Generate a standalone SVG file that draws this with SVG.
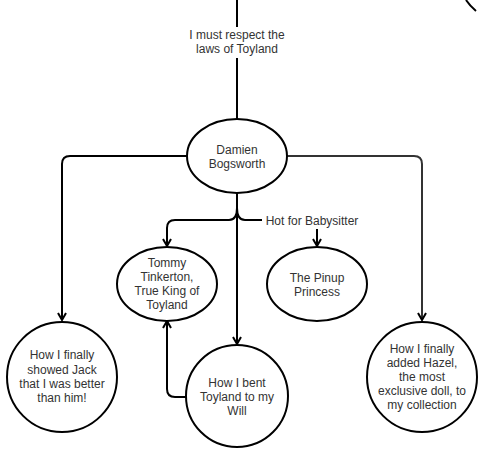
<svg xmlns="http://www.w3.org/2000/svg" width="482" height="453" viewBox="0 0 482 453">
<style>
.n{fill:#fff;stroke:#000;stroke-width:2}
.c{fill:none;stroke:#000;stroke-width:2}
.t{font-family:"Liberation Sans",Arial,sans-serif;font-size:12px;fill:#333;text-anchor:middle}
</style>
<defs>
<marker id="a" markerWidth="10" markerHeight="10" refX="8" refY="5" orient="auto" markerUnits="userSpaceOnUse">
<path d="M1,1 L8,5 L1,9" fill="none" stroke="#000" stroke-width="2"/>
</marker>
</defs>
<g id="connectors">
<path class="c" d="M237,0 V119"/>
<rect x="188" y="27" width="98" height="31" fill="#fff"/>
<text class="t" x="237" y="39">I must respect the</text>
<text class="t" x="237" y="53">laws of Toyland</text>
<path class="c" d="M187,156 H70 Q62,156 62,164 V320" marker-end="url(#a)"/>
<path class="c" d="M287,156 H414 Q422,156 422,164 V320" style="stroke:#333" marker-end="url(#a)"/>
<path class="c" d="M237,193 V344" marker-end="url(#a)"/>
<path class="c" d="M237,208 Q237,220 229,220 H175 Q167,220 167,228 V246" marker-end="url(#a)"/>
<path class="c" d="M237,208 Q237,220 245,220 H262"/>
<text class="t" x="312" y="225">Hot for Babysitter</text>
<path class="c" d="M317,229 V246" marker-end="url(#a)"/>
<path class="c" d="M186,397 H175 Q167,397 167,389 V321" marker-end="url(#a)"/>
<path class="c" d="M466,0 Q470,6 476,11"/>
</g>
<g id="damien">
<ellipse class="n" cx="237" cy="156" rx="50" ry="37"/>
<text class="t" x="237" y="154">Damien</text>
<text class="t" x="237" y="168">Bogsworth</text>
</g>
<g id="tommy">
<ellipse class="n" cx="167" cy="284" rx="50" ry="37"/>
<text class="t" x="167" y="267">Tommy</text>
<text class="t" x="167" y="281">Tinkerton,</text>
<text class="t" x="167" y="295">True King of</text>
<text class="t" x="167" y="309">Toyland</text>
</g>
<g id="pinup">
<ellipse class="n" cx="317" cy="284" rx="50" ry="37"/>
<text class="t" x="317" y="282">The Pinup</text>
<text class="t" x="317" y="296">Princess</text>
</g>
<g id="jack">
<circle class="n" cx="62" cy="377" r="55"/>
<text class="t" x="62" y="359">How I finally</text>
<text class="t" x="62" y="374">showed Jack</text>
<text class="t" x="62" y="388">that I was better</text>
<text class="t" x="62" y="402">than him!</text>
</g>
<g id="bent">
<circle class="n" cx="237" cy="396" r="51"/>
<text class="t" x="237" y="387">How I bent</text>
<text class="t" x="237" y="401">Toyland to my</text>
<text class="t" x="237" y="415">Will</text>
</g>
<g id="hazel">
<circle class="n" cx="422" cy="377" r="55"/>
<text class="t" x="422" y="353">How I finally</text>
<text class="t" x="422" y="367">added Hazel,</text>
<text class="t" x="422" y="381">the most</text>
<text class="t" x="422" y="395">exclusive doll, to</text>
<text class="t" x="422" y="409">my collection</text>
</g>
</svg>
